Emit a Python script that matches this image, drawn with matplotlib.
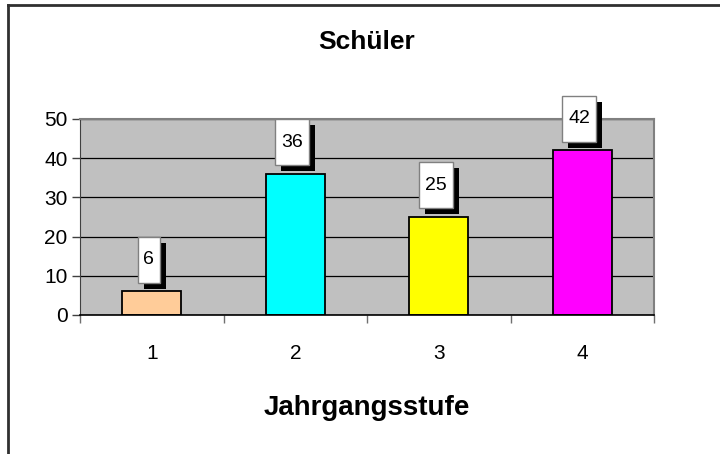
import matplotlib
matplotlib.use("Agg")
import matplotlib.pyplot as plt
from matplotlib.patches import Rectangle
from matplotlib.transforms import ScaledTranslation

# chart data
stufen = ["1", "2", "3", "4"]
schueler = [6, 36, 25, 42]
bar_colors = ["#FFCC99", "#00FFFF", "#FFFF00", "#FF00FF"]
y_ticks = [0, 10, 20, 30, 40, 50]

plt.rcParams["font.family"] = ["Liberation Sans", "DejaVu Sans"]

W, H = 720, 454
fig = plt.figure(figsize=(W / 100, H / 100), dpi=100)
ax = fig.add_axes([80 / W, 1 - 315 / H, 574 / W, 196 / H])
ax.set_facecolor("#C0C0C0")

xpos = list(range(1, len(stufen) + 1))
ax.bar(xpos, schueler, width=0.41, color=bar_colors, edgecolor="black",
       linewidth=1.3, zorder=3)

ax.set_xlim(0.5, len(stufen) + 0.5)
ax.set_ylim(0, 50)
ax.set_yticks(y_ticks)
ax.yaxis.grid(True, color="black", linewidth=0.9, zorder=1)
ax.tick_params(axis="y", labelsize=15, length=6, width=1, color="#404040", pad=3)

# category labels in the middle, tick marks between the categories
ax.set_xticks(xpos)
ax.set_xticklabels(stufen)
ax.set_xticks([x + 0.5 for x in [0] + xpos], minor=True)
ax.tick_params(axis="x", which="major", length=0, labelsize=15, pad=21)
ax.tick_params(axis="x", which="minor", length=6, width=1, color="#707070")

for side in ["top", "right"]:
    ax.spines[side].set_color("#808080")
    ax.spines[side].set_linewidth(1.5)
ax.spines["left"].set_color("#404040")
ax.spines["bottom"].set_color("black")
ax.spines["bottom"].set_linewidth(1.2)
ax.spines["bottom"].set_zorder(4)

# value labels: white box with black drop shadow above each bar
px = 1 / 100.0
for x, v in zip(xpos, schueler):
    txt = str(v)
    bw = (len(txt) * 11.5 + 11) * px
    bh = 46 * px
    gap = 8.5 * px
    trans = fig.dpi_scale_trans + ScaledTranslation(x, v, ax.transData)
    x0 = -bw / 2 - 3 * px
    ax.add_patch(Rectangle((x0 + 6 * px, gap - 6 * px), bw, bh, transform=trans,
                           facecolor="black", edgecolor="none", clip_on=False, zorder=5))
    ax.add_patch(Rectangle((x0, gap), bw, bh, transform=trans,
                           facecolor="white", edgecolor="#808080", linewidth=1,
                           clip_on=False, zorder=6))
    ax.text(x0 + bw / 2, gap + bh / 2, txt, transform=trans, ha="center",
            va="center", fontsize=14, zorder=7)

fig.text(367 / W, 1 - 42 / H, "Schüler", ha="center", va="center",
         fontsize=19, fontweight="bold")
fig.text(367 / W, 1 - 408 / H, "Jahrgangsstufe", ha="center", va="center",
         fontsize=20, fontweight="bold")

# outer chart frame (cut off at right and bottom)
fig.add_artist(plt.Line2D([7.5 / W, 7.5 / W], [0, 1 - 4.5 / H], color="#303030",
                          linewidth=2, transform=fig.transFigure))
fig.add_artist(plt.Line2D([7.5 / W, 1], [1 - 4.5 / H, 1 - 4.5 / H], color="#303030",
                          linewidth=2, transform=fig.transFigure))

fig.savefig("out.png", dpi=100)
